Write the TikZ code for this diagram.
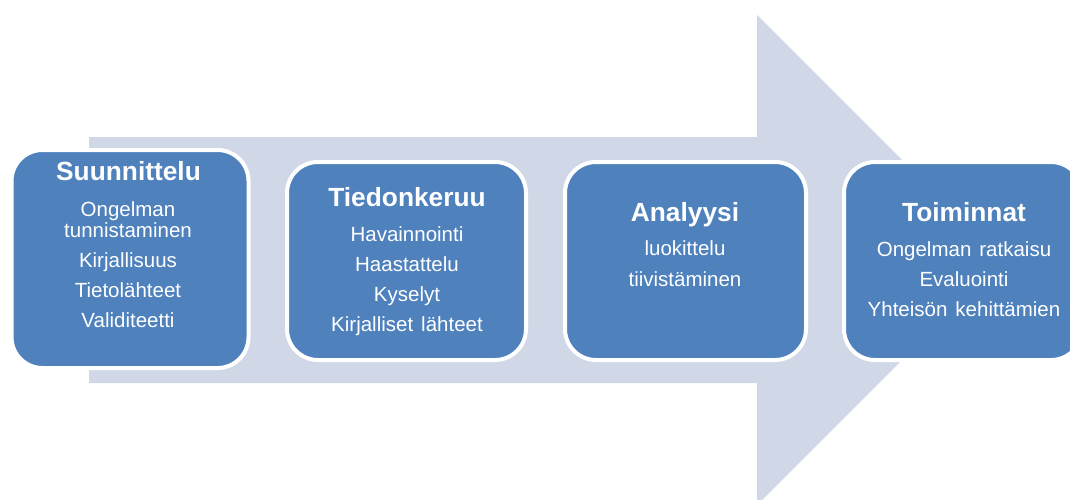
\documentclass[tikz,border=0pt]{standalone}
\usepackage{fontspec}
\setmainfont{Liberation Sans}
\definecolor{arrowfill}{HTML}{D0D8E8}
\definecolor{boxfill}{HTML}{4F81BD}
\newcommand\stageentryfont{\fontsize{20.5}{24}\selectfont\spaceskip 8pt plus 1pt\relax}
\newcommand\stageheadfont{\fontsize{26.3}{30}\selectfont\bfseries}
\begin{document}
\begin{tikzpicture}[x=1pt,y=-1pt,
  stagebox/.style={draw=white,line width=4pt,fill=boxfill,rounded corners=31pt,
    minimum height=198pt,inner sep=0pt,outer sep=0pt},
  heading/.style={text=white,font=\stageheadfont,anchor=base,inner sep=0pt},
  entry/.style={text=white,font=\stageentryfont,anchor=base,inner sep=0pt}]
  \useasboundingbox (0,0) rectangle (1070,499);
  \clip (0,0) rectangle (1070,499);

  % background process arrow
  \fill[arrowfill] (89,137) -- (757,137) -- (757,15) -- (1002,260)
    -- (757,505) -- (757,383) -- (89,383) -- cycle;

  % stage boxes
  \node[stagebox,minimum width=237pt,minimum height=218pt] (b1) at (130,259) {};
  \node[stagebox,minimum width=239pt] (b2) at (406.5,261) {};
  \node[stagebox,minimum width=241pt] (b3) at (685.5,261) {};
  \node[stagebox,minimum width=238pt] (b4) at (963,261) {};

  % Suunnittelu
  \node[heading] (h1) at (128.5,180) {Suunnittelu};
  \node[entry] (e1a) at (128,216.5) {Ongelman};
  \node[entry] (e1b) at (128,237.5) {tunnistaminen};
  \node[entry] (e1c) at (128,267.5) {Kirjallisuus};
  \node[entry] (e1d) at (128,297.5) {Tietolähteet};
  \node[entry] (e1e) at (128,327.5) {Validiteetti};

  % Tiedonkeruu
  \node[heading] (h2) at (407,206.5) {Tiedonkeruu};
  \node[entry] (e2a) at (407,241.5) {Havainnointi};
  \node[entry] (e2b) at (407,271) {Haastattelu};
  \node[entry] (e2c) at (407,301) {Kyselyt};
  \node[entry] (e2d) at (407,331) {Kirjalliset lähteet};

  % Analyysi
  \node[heading] (h3) at (685,221.5) {Analyysi};
  \node[entry] (e3a) at (685,255) {luokittelu};
  \node[entry] (e3b) at (685,286.5) {tiivistäminen};

  % Toiminnat
  \node[heading] (h4) at (964,221.5) {Toiminnat};
  \node[entry] (e4a) at (964,256) {Ongelman ratkaisu};
  \node[entry] (e4b) at (964,286.5) {Evaluointi};
  \node[entry] (e4c) at (964,316.5) {Yhteisön kehittämien};
\end{tikzpicture}
\end{document}
